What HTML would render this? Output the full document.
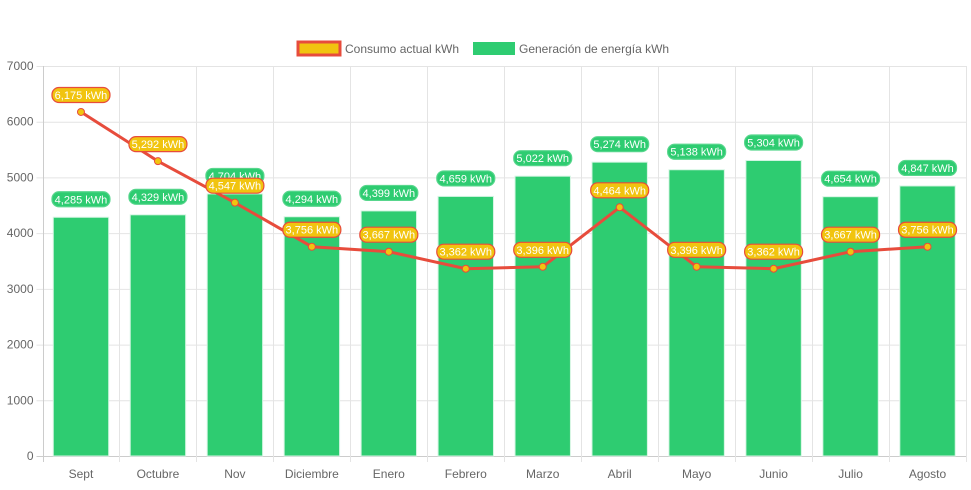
<!DOCTYPE html>
<html><head><meta charset="utf-8"><style>
body{margin:0;background:#fff;}
svg text{font-family:"Liberation Sans",sans-serif;}
</style></head><body>
<svg id="chart" width="971" height="485" xmlns="http://www.w3.org/2000/svg">
<g>
<g>
<rect x="298" y="42" width="42" height="13" fill="#f1c40f" stroke="#e74c3c" stroke-width="3"/>
<text x="345" y="53" font-size="12" fill="#666">Consumo actual kWh</text></g>
<g>
<rect x="473" y="42" width="42" height="13" fill="#2ecc71"/>
<text x="519" y="53" font-size="12" fill="#666">Generación de energía kWh</text></g>
</g>
<g id="grid"></g><g id="bars"></g><g id="line"></g><g id="labels"></g>
</svg>
<script>
const categories=["Sept","Octubre","Nov","Diciembre","Enero","Febrero","Marzo","Abril","Mayo","Junio","Julio","Agosto"];
const generacion=[4285,4329,4704,4294,4399,4659,5022,5274,5138,5304,4654,4847];
const consumo=[6175,5292,4547,3756,3667,3362,3396,4464,3396,3362,3667,3756];
const yTicks=[0,1000,2000,3000,4000,5000,6000,7000];
const NS="http://www.w3.org/2000/svg";
const L=42.5,R=966,T=66,B=456,YMAX=7000;
const bw=(R-L)/categories.length;
const x=i=>L+bw*(i+0.5);
const y=v=>B-(v/YMAX)*(B-T);
function mk(tag,attrs,parent){const e=document.createElementNS(NS,tag);for(const k in attrs)e.setAttribute(k,attrs[k]);parent.appendChild(e);return e;}
const grid=document.getElementById('grid');
yTicks.forEach(t=>{
 const ln=mk('line',{x1:L-6,x2:R,y1:y(t)+0.5,y2:y(t)+0.5,stroke:t===0?'#ccc':'#e4e4e4'},grid);
 
 
 const tx=mk('text',{x:L-9,y:y(t)+4,'text-anchor':'end','font-size':12,fill:'#666'},grid);
 tx.textContent=t;
 
 
});
for(let i=0;i<=categories.length;i++){
 const gx=Math.round(L+bw*i)+0.5;
 const ln=mk('line',{x1:gx,x2:gx,y1:T,y2:B+6,stroke:i===0?'#ccc':'#e4e4e4'},grid);
 
 
}
categories.forEach((c,i)=>{
 const tx=mk('text',{x:x(i),y:478,'text-anchor':'middle','font-size':12,fill:'#666'},grid);
 tx.textContent=c;
 
 
});
const bars=document.getElementById('bars');
const barW=bw*0.72;
generacion.forEach((v,i)=>{
 const r=mk('rect',{x:x(i)-barW/2,y:y(v),width:barW,height:B-y(v),fill:'#2ecc71',stroke:'#d5f5e3','stroke-width':1},bars);
 
 
});
const lg=document.getElementById('line');
const pts=consumo.map((v,i)=>x(i)+','+y(v)).join(' ');
const pl=mk('polyline',{points:pts,fill:'none',stroke:'#e74c3c','stroke-width':3},lg);


consumo.forEach((v,i)=>{
 const c=mk('circle',{cx:x(i),cy:y(v),r:3.5,fill:'#f1c40f',stroke:'#e74c3c','stroke-width':1},lg);
 
 
});
const labels=document.getElementById('labels');
function label(cx,cy,txt,fill,stroke,name){
 const g=mk('g',{},labels);
 
 
 mk('rect',{x:cx-29,y:cy-7.5,width:58,height:15,rx:7,fill:fill,stroke:stroke,'stroke-width':1.2},g);
 const t=mk('text',{x:cx,y:cy+4,'text-anchor':'middle','font-size':11,fill:'#fff'},g);
 t.textContent=txt;
}
const fmt=v=>v.toLocaleString('en-US')+' kWh';
generacion.forEach((v,i)=>label(x(i),y(v)-18,fmt(v),'#2ecc71','#58d68d','bar-value-label'));
consumo.forEach((v,i)=>label(x(i),y(v)-17,fmt(v),'#f1c40f','#e74c3c','line-value-label'));
</script>
</body></html>
